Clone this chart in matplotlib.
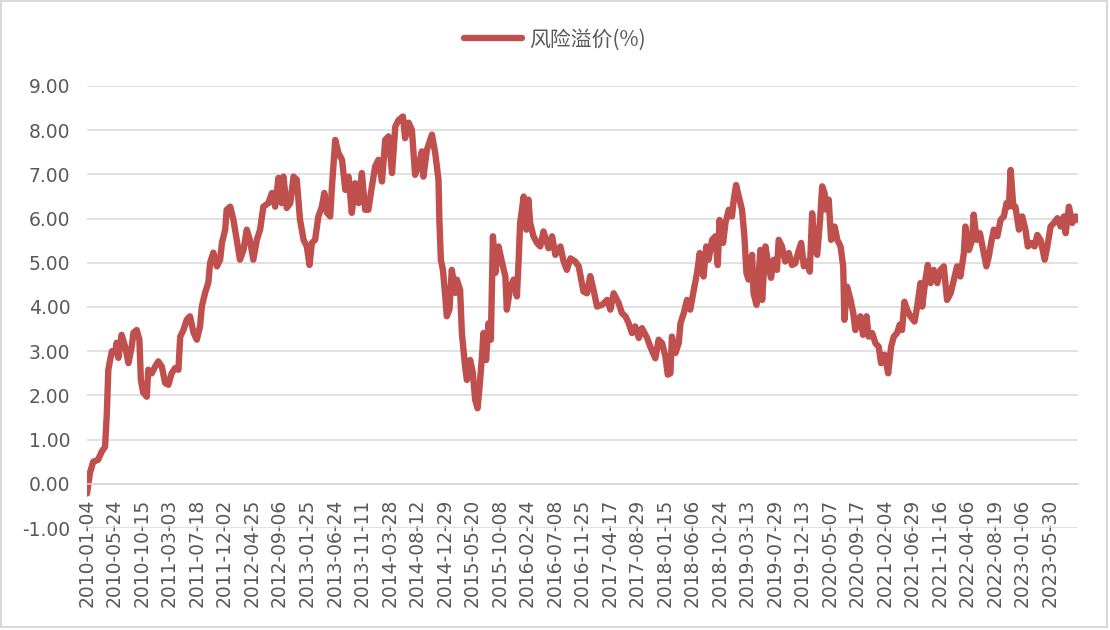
import numpy as np
import matplotlib.pyplot as plt
from matplotlib.patches import Rectangle
from matplotlib.font_manager import FontProperties

# 风险溢价(%) 日度数据（按交易日序号读取）
tick_labels = ["2010-01-04", "2010-05-24", "2010-10-15", "2011-03-03", "2011-07-18",
               "2011-12-02", "2012-04-25", "2012-09-06", "2013-01-25", "2013-06-24",
               "2013-11-11", "2014-03-28", "2014-08-12", "2014-12-29", "2015-05-20",
               "2015-10-08", "2016-02-24", "2016-07-08", "2016-11-25", "2017-04-17",
               "2017-08-29", "2018-01-15", "2018-06-06", "2018-10-24", "2019-03-13",
               "2019-07-29", "2019-12-13", "2020-05-07", "2020-09-17", "2021-02-04",
               "2021-06-29", "2021-11-16", "2022-04-06", "2022-08-19", "2023-01-06",
               "2023-05-30"]
label_step = 93      # 每个标签间隔的交易日数
n_days = 3350

day_idx = [0, 10, 21, 37, 50, 61, 67, 72, 78, 84, 95, 100, 106, 117, 129, 140, 151, 157,
           168, 177, 182, 190, 202, 207, 219, 230, 241, 253, 264, 275, 286, 298, 309, 315,
           326, 337, 348, 360, 371, 382, 388, 399, 410, 416, 427, 439, 450, 456, 467, 472,
           484, 495, 506, 517, 529, 540, 551, 562, 574, 585, 596, 613, 625, 636, 647, 658,
           664, 675, 687, 698, 709, 720, 732, 743, 752, 760, 771, 782, 794, 802, 811, 822,
           828, 839, 850, 862, 873, 884, 895, 906, 918, 929, 940, 951, 963, 974, 985, 997,
           1008, 1019, 1031, 1042, 1053, 1068, 1075, 1087, 1098, 1109, 1120, 1132, 1137,
           1149, 1166, 1177, 1188, 1191, 1196, 1203, 1211, 1216, 1225, 1233, 1245, 1250,
           1261, 1267, 1278, 1284, 1295, 1304, 1312, 1320, 1327, 1335, 1340, 1349, 1357,
           1365, 1372, 1380, 1391, 1403, 1414, 1419, 1431, 1442, 1453, 1459, 1464, 1476,
           1485, 1492, 1498, 1509, 1521, 1532, 1543, 1560, 1572, 1583, 1600, 1611, 1622,
           1634, 1650, 1662, 1678, 1690, 1701, 1712, 1724, 1741, 1758, 1769, 1780, 1797,
           1808, 1820, 1831, 1842, 1853, 1865, 1876, 1893, 1904, 1921, 1932, 1944, 1955,
           1963, 1972, 1977, 1989, 2000, 2006, 2017, 2028, 2039, 2051, 2062, 2071, 2084,
           2093, 2101, 2113, 2124, 2132, 2138, 2150, 2158, 2169, 2180, 2186, 2194, 2203,
           2214, 2222, 2229, 2236, 2248, 2253, 2263, 2270, 2276, 2282, 2293, 2304, 2312,
           2321, 2332, 2338, 2349, 2360, 2372, 2383, 2394, 2406, 2414, 2423, 2434, 2443,
           2451, 2459, 2468, 2477, 2485, 2493, 2499, 2507, 2515, 2527, 2536, 2547, 2556,
           2560, 2569, 2581, 2590, 2597, 2605, 2614, 2623, 2635, 2642, 2654, 2665, 2676,
           2684, 2696, 2708, 2718, 2727, 2738, 2747, 2755, 2763, 2772, 2783, 2797, 2806,
           2817, 2823, 2834, 2842, 2851, 2862, 2874, 2885, 2896, 2907, 2919, 2930, 2941,
           2952, 2964, 2969, 2981, 2992, 2997, 3007, 3018, 3029, 3040, 3048, 3056, 3065,
           3077, 3088, 3099, 3108, 3116, 3122, 3131, 3138, 3150, 3161, 3172, 3180, 3192,
           3203, 3212, 3223, 3237, 3246, 3257, 3268, 3280, 3291, 3302, 3308, 3319, 3330,
           3342, 3349]

premium = [-0.22, 0.25, 0.50, 0.54, 0.73, 0.84, 1.60, 2.58, 2.80, 3.00, 2.96, 3.19, 2.85,
           3.37, 3.10, 2.73, 3.10, 3.42, 3.48, 3.26, 2.35, 2.06, 1.97, 2.58, 2.50, 2.65,
           2.77, 2.65, 2.28, 2.24, 2.50, 2.62, 2.58, 3.33, 3.48, 3.71, 3.79, 3.42, 3.26,
           3.56, 4.01, 4.32, 4.55, 5.00, 5.23, 4.92, 5.07, 5.45, 5.75, 6.20, 6.27, 5.97,
           5.52, 5.07, 5.29, 5.75, 5.50, 5.07, 5.52, 5.75, 6.27, 6.35, 6.58, 6.27, 6.92,
           6.35, 6.95, 6.24, 6.35, 6.95, 6.88, 5.97, 5.52, 5.37, 4.95, 5.45, 5.52, 6.05,
           6.27, 6.58, 6.13, 6.05, 6.73, 7.78, 7.48, 7.33, 6.65, 6.95, 6.13, 6.80, 6.35,
           7.03, 6.20, 6.20, 6.73, 7.18, 7.33, 6.84, 7.78, 7.86, 7.03, 8.08, 8.23, 8.31,
           7.82, 8.17, 8.01, 6.99, 7.18, 7.52, 6.95, 7.56, 7.90, 7.48, 6.88, 5.97, 5.07,
           4.84, 4.24, 3.79, 3.94, 4.84, 4.32, 4.62, 4.39, 3.41, 2.65, 2.35, 2.80, 2.51,
           1.90, 1.71, 2.20, 2.88, 3.41, 2.80, 3.63, 3.26, 5.60, 4.77, 5.37, 5.00, 4.69,
           3.94, 4.46, 4.62, 4.24, 5.07, 5.90, 6.50, 5.75, 6.43, 5.90, 5.60, 5.45, 5.37,
           5.71, 5.33, 5.60, 5.18, 5.37, 5.03, 4.84, 5.10, 5.03, 4.92, 4.35, 4.31, 4.70,
           4.39, 4.01, 4.05, 4.16, 3.94, 4.31, 4.09, 3.86, 3.79, 3.63, 3.41, 3.56, 3.30,
           3.52, 3.30, 3.10, 2.84, 3.26, 3.18, 2.88, 2.47, 2.50, 3.33, 2.96, 3.18, 3.63,
           3.86, 4.16, 3.94, 4.39, 4.77, 5.22, 4.69, 5.37, 5.07, 5.52, 5.60, 4.95, 5.97,
           5.45, 5.90, 6.20, 6.05, 6.43, 6.76, 6.50, 6.20, 5.60, 4.77, 4.62, 5.18, 4.31,
           4.05, 4.69, 5.29, 4.16, 5.37, 4.92, 4.66, 5.07, 4.84, 5.52, 5.37, 5.03, 5.22,
           4.95, 4.99, 5.29, 5.45, 4.92, 5.03, 4.80, 6.12, 5.37, 5.18, 5.90, 6.73, 6.58,
           6.20, 6.43, 5.52, 5.82, 5.52, 5.37, 4.92, 3.71, 4.46, 4.16, 3.86, 3.48, 3.71,
           3.79, 3.37, 3.79, 3.33, 3.41, 3.18, 3.10, 2.73, 2.92, 2.50, 3.10, 3.33, 3.41,
           3.60, 3.48, 4.12, 3.94, 3.79, 3.67, 4.01, 4.54, 4.01, 4.62, 4.95, 4.54, 4.84,
           4.54, 4.84, 4.92, 4.16, 4.31, 4.62, 4.92, 4.69, 5.22, 5.82, 5.29, 5.52, 6.09,
           5.52, 5.67, 5.29, 4.92, 5.14, 5.45, 5.75, 5.60, 5.97, 6.05, 6.35, 6.27, 7.10,
           6.27, 6.27, 5.75, 6.05, 5.75, 5.37, 5.45, 5.37, 5.63, 5.52, 5.07, 5.37, 5.82,
           5.90, 6.01, 5.82, 6.05, 5.67, 6.27, 5.90, 6.05, 5.97]

y_ticks = [-1, 0, 1, 2, 3, 4, 5, 6, 7, 8, 9]
y_tick_labels = ["-1.00", "0.00", "1.00", "2.00", "3.00", "4.00", "5.00", "6.00",
                 "7.00", "8.00", "9.00"]

line_color = "#C0504D"
text_color = "#595959"
grid_color = "#D9D9D9"

fig = plt.figure(figsize=(11.1, 6.3), dpi=100)
ax = fig.add_axes([0.0784, 0.1619, 0.8926, 0.7016])

ax.plot(day_idx, premium, color=line_color, linewidth=4.6,
        solid_joinstyle="round", solid_capstyle="round", label="风险溢价(%)")

# 横轴放在 0 处（先设位置，再设刻度标签）
for side in ["left", "right", "top"]:
    ax.spines[side].set_visible(False)
ax.spines["bottom"].set_position(("data", 0))
ax.spines["bottom"].set_color(grid_color)
ax.spines["bottom"].set_linewidth(1.1)

ax.set_xlim(0, n_days - 1)
ax.set_ylim(-1, 9)
ax.set_yticks(y_ticks)
ax.set_yticklabels(y_tick_labels)
ax.set_xticks(np.arange(len(tick_labels)) * label_step)
ax.set_xticklabels(tick_labels)

ax.grid(axis="y", color=grid_color, linewidth=1.1)
ax.set_axisbelow(True)

ax.tick_params(axis="y", length=0, pad=12, labelsize=13.5, labelcolor=text_color)
ax.tick_params(axis="x", length=0, pad=11, labelsize=13.5, labelcolor=text_color,
               labelrotation=90)

leg_font = FontProperties(family=["Noto Sans CJK SC", "DejaVu Sans"], size=15)
leg = fig.legend(loc="center", bbox_to_anchor=(0.5, 0.937), frameon=False,
                 prop=leg_font, handlelength=2.8, handletextpad=0.35)
for t in leg.get_texts():
    t.set_color(text_color)

# 图表外框
fig.patches.append(Rectangle((0.001, 0.004), 0.996, 0.994, transform=fig.transFigure,
                             fill=False, edgecolor=grid_color, linewidth=1.5))

fig.savefig("out.png", dpi=100)
